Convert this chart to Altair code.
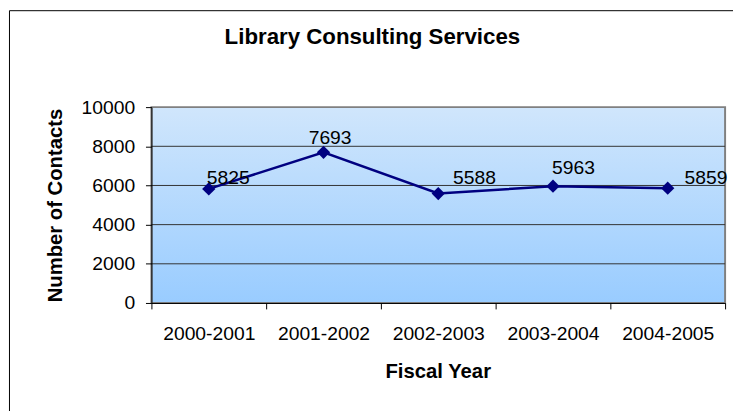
import altair as alt
import pandas as pd

# ---- data ----
YEARS = ["2000-2001", "2001-2002", "2002-2003", "2003-2004", "2004-2005"]
CONTACTS = [5825, 7693, 5588, 5963, 5859]
Y_TICKS = [0, 2000, 4000, 6000, 8000, 10000]
GRID_VALUES = [2000, 4000, 6000, 8000]
Y_RANGE = [0, 10000]

# ---- styling (label nudges as in the reference) ----
LABEL_OFFSETS = [(-2, -5.4), (-15, -8.7), (15, -10), (-1, -12.6), (17, -4)]
FONT = "Liberation Sans"
NAVY = "#000080"
W, H = 580, 198

df = pd.DataFrame({"year": YEARS, "value": CONTACTS})
band_df = pd.DataFrame({"value": [Y_RANGE[0]], "value2": [Y_RANGE[1]]})
grid_df = pd.DataFrame({"value": GRID_VALUES})


def y_enc():
    return alt.Y(
        "value:Q",
        scale=alt.Scale(domain=Y_RANGE, nice=False),
        axis=alt.Axis(
            values=Y_TICKS, format="d", grid=False, tickSize=6, labelPadding=11,
            labelFontSize=19.5, title="Number of Contacts", titleX=-91.3, titleY=99,
            titleAngle=270, titleAlign="center", titleBaseline="alphabetic",
            titleFontSize=20.5, titleFontWeight="bold", zindex=1,
        ),
    )


x_enc = alt.X(
    "year:N", sort=YEARS,
    scale=alt.Scale(type="band", paddingInner=0, paddingOuter=0),
    bandPosition=0.5,
    axis=alt.Axis(
        labelAngle=0, tickBand="extent", tickSize=6, labelPadding=15.5,
        labelFontSize=19.5, title="Fiscal Year", titleX=289.5, titleY=75.3,
        titleAlign="center", titleBaseline="alphabetic", titleFontSize=20.5,
        titleFontWeight="bold", zindex=1,
    ),
)

gradient = alt.LinearGradient(
    gradient="linear",
    stops=[alt.GradientStop(color="#D0E6FC", offset=0),
           alt.GradientStop(color="#99CCFF", offset=1)],
    x1=0, x2=0, y1=0, y2=1,
)

bg = alt.Chart(band_df).mark_rect(fill=gradient, stroke="#808080", strokeWidth=2).encode(
    y=y_enc(), y2="value2"
)
gridl = alt.Chart(grid_df).mark_rule(color="#333333", strokeWidth=1).encode(y=y_enc())

base = alt.Chart(df)
line = base.mark_line(color=NAVY, strokeWidth=2.5).encode(x=x_enc, y=y_enc())
points = base.mark_point(shape="diamond", filled=True, size=180, color=NAVY, opacity=1).encode(
    x=x_enc, y=y_enc()
)

labels = []
for yr, (dx, dy) in zip(YEARS, LABEL_OFFSETS):
    labels.append(
        base.transform_filter(alt.datum.year == yr)
        .mark_text(align="left", baseline="alphabetic", dx=dx, dy=dy,
                   fontSize=19.5, font=FONT, color="black")
        .encode(x=x_enc, y=y_enc(), text="value:Q")
    )

border = alt.Chart(pd.DataFrame({"value": [0]})).mark_rect(
    fill="transparent", stroke="black", strokeWidth=1
).encode(
    x=alt.value(-143.5), x2=alt.value(1000), y=alt.value(-97.5), y2=alt.value(1000)
)

chart = (
    alt.layer(bg, gridl, line, points, *labels, border)
    .properties(
        width=W, height=H,
        padding={"left": 145, "top": 98, "right": 8, "bottom": 107},
        autosize=alt.AutoSizeParams(type="none"),
        title=alt.TitleParams(
            "Library Consulting Services", font=FONT, fontSize=22.5, fontWeight="bold",
            anchor="start", frame="group", dx=74, dy=56.5, baseline="alphabetic", offset=0,
            color="black",
        ),
    )
    .configure(background="white")
    .configure_view(strokeWidth=0)
    .configure_axis(labelFont=FONT, titleFont=FONT, labelColor="black", titleColor="black",
                    domainColor="black", tickColor="black", domainWidth=1, tickWidth=1)
)

chart.save("out.html", embed_options={"renderer": "svg", "actions": False})
